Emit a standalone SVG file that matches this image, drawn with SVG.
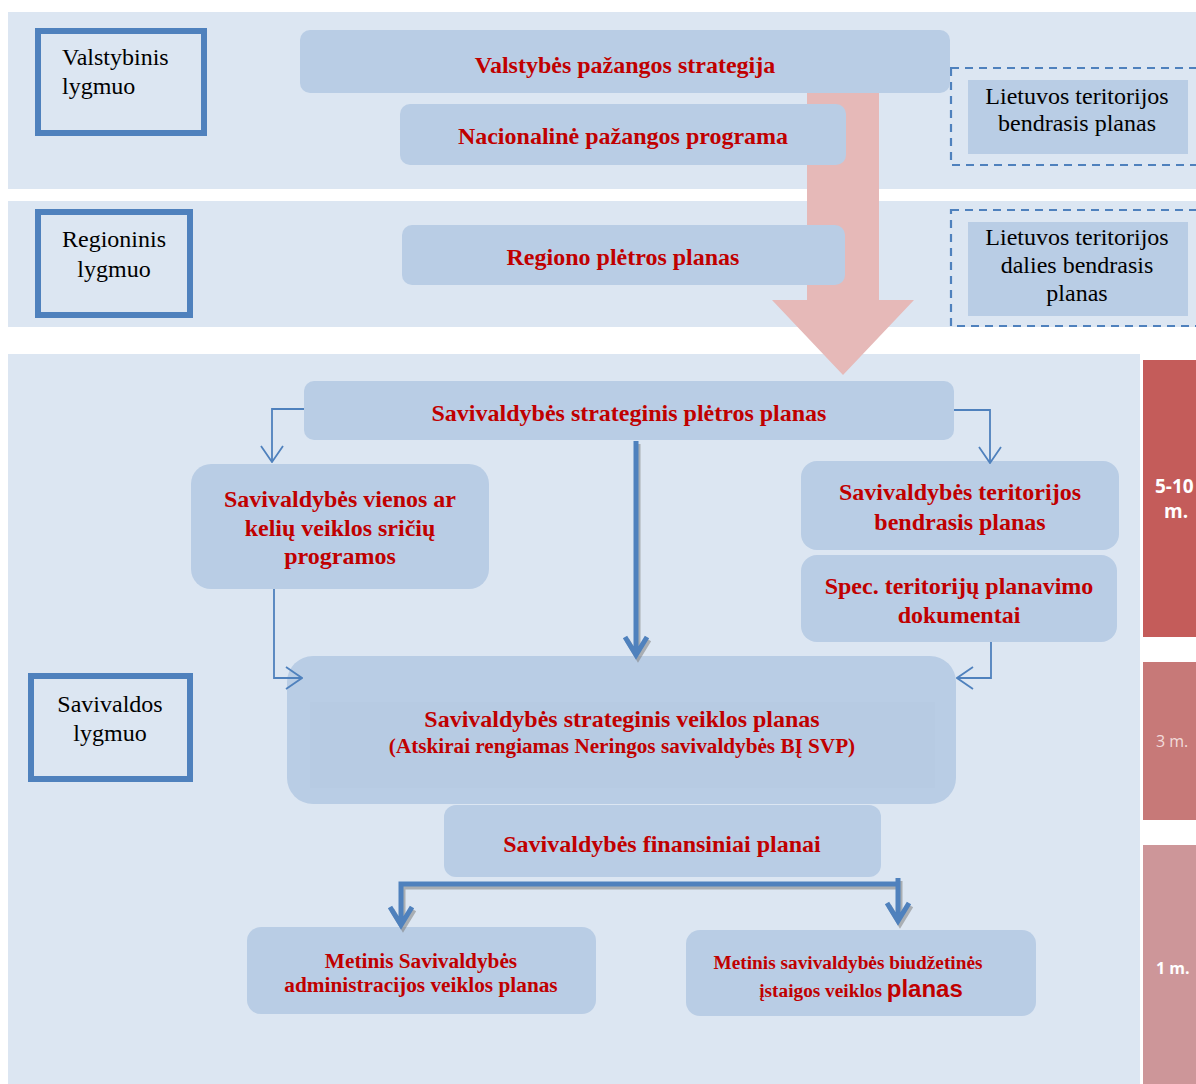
<svg xmlns="http://www.w3.org/2000/svg" width="1196" height="1084" viewBox="0 0 1196 1084">
<style>
.band{fill:#DCE6F2}
.node{fill:#B9CDE5}
.lvl{fill:#DCE6F2;stroke:#4F81BD;stroke-width:6}
.dash{fill:none;stroke:#4F81BD;stroke-width:2.2;stroke-dasharray:8 6}
.inner{fill:#B9CDE5}
.blk{font-family:"Liberation Serif",serif;font-size:24px;fill:#000}
.red{font-family:"Liberation Serif",serif;font-size:24px;font-weight:bold;fill:#C00000}
.thin{fill:none;stroke:#4F81BD;stroke-width:1.8}
.thick{fill:none;stroke:#4F81BD;stroke-width:5}
.shadow{fill:none;stroke:#7F7F7F;stroke-width:5;opacity:0.55}
.bar{font-family:"Open Sans",sans-serif;font-size:16px;fill:#fff}
.big{font-size:19px;font-weight:bold}
</style>
<defs>
<marker id="open" viewBox="0 0 18 24" refX="17" refY="12" markerWidth="18" markerHeight="24" markerUnits="userSpaceOnUse" orient="auto">
<path d="M1,1 L17,12 L1,23" fill="none" stroke="#4F81BD" stroke-width="1.8"/>
</marker>
</defs>
<rect width="1196" height="1084" fill="#fff"/>
<g id="bands">
<rect class="band" x="8" y="12" width="1188" height="177"/>
<rect class="band" x="8" y="201" width="1188" height="126"/>
<rect class="band" x="8" y="354" width="1132" height="730"/>
</g>
<g id="big-arrow">
<polygon points="807,93 879,93 879,300 914,300 843,375 772,300 807,300" fill="#E6B9B8"/>
</g>
<g id="periods">
<rect x="1143" y="360" width="60" height="277" fill="#C0504D" opacity="0.93"/>
<rect x="1143" y="662" width="60" height="158" fill="#C77978"/>
<rect x="1143" y="845" width="60" height="245" fill="#CD9699"/>
<text class="bar big" x="1155" y="493">5-10</text>
<text class="bar big" x="1164" y="518">m.</text>
<text class="bar" x="1156" y="747" style="fill:#F2DCDB">3 m.</text>
<text class="bar" x="1156" y="974" font-weight="bold">1 m.</text>
</g>
<g id="lvl-valstybinis">
<rect class="lvl" x="38" y="31" width="166" height="102"/>
<text class="blk" x="62" y="65">Valstybinis</text>
<text class="blk" x="62" y="94">lygmuo</text>
</g>
<g id="lvl-regioninis">
<rect class="lvl" x="38" y="212" width="152" height="103"/>
<text class="blk" x="114" y="247" text-anchor="middle">Regioninis</text>
<text class="blk" x="114" y="277" text-anchor="middle">lygmuo</text>
</g>
<g id="lvl-savivaldos">
<rect class="lvl" x="31" y="676" width="159" height="103"/>
<text class="blk" x="110" y="712" text-anchor="middle">Savivaldos</text>
<text class="blk" x="110" y="741" text-anchor="middle">lygmuo</text>
</g>
<g id="lt-bendrasis">
<rect class="dash" x="951" y="68" width="250" height="97"/>
<rect class="inner" x="968" y="80" width="220" height="74"/>
<text class="blk" x="1077" y="104" text-anchor="middle">Lietuvos teritorijos</text>
<text class="blk" x="1077" y="131" text-anchor="middle">bendrasis planas</text>
</g>
<g id="lt-dalies">
<rect class="dash" x="951" y="210" width="250" height="116"/>
<rect class="inner" x="968" y="222" width="220" height="94"/>
<text class="blk" x="1077" y="245" text-anchor="middle">Lietuvos teritorijos</text>
<text class="blk" x="1077" y="273" text-anchor="middle">dalies bendrasis</text>
<text class="blk" x="1077" y="301" text-anchor="middle">planas</text>
</g>
<g id="n-strategija">
<rect class="node" x="300" y="30" width="650" height="63" rx="10"/>
<text class="red" x="625" y="73" text-anchor="middle">Valstybės pažangos strategija</text>
</g>
<g id="n-programa">
<rect class="node" x="400" y="104" width="446" height="61" rx="10"/>
<text class="red" x="623" y="144" text-anchor="middle">Nacionalinė pažangos programa</text>
</g>
<g id="n-regiono">
<rect class="node" x="402" y="225" width="443" height="60" rx="10"/>
<text class="red" x="623" y="265" text-anchor="middle">Regiono plėtros planas</text>
</g>
<g id="n-spp">
<rect class="node" x="304" y="381" width="650" height="59" rx="10"/>
<text class="red" x="629" y="421" text-anchor="middle">Savivaldybės strateginis plėtros planas</text>
</g>
<g id="n-programos">
<rect class="node" x="191" y="464" width="298" height="125" rx="20"/>
<text class="red" x="340" y="507" text-anchor="middle">Savivaldybės vienos ar</text>
<text class="red" x="340" y="536" text-anchor="middle">kelių veiklos sričių</text>
<text class="red" x="340" y="564" text-anchor="middle">programos</text>
</g>
<g id="n-tbp">
<rect class="node" x="801" y="461" width="318" height="89" rx="16"/>
<text class="red" x="960" y="500" text-anchor="middle">Savivaldybės teritorijos</text>
<text class="red" x="960" y="530" text-anchor="middle">bendrasis planas</text>
</g>
<g id="n-spec">
<rect class="node" x="801" y="555" width="316" height="87" rx="16"/>
<text class="red" x="959" y="594" text-anchor="middle">Spec. teritorijų planavimo</text>
<text class="red" x="959" y="623" text-anchor="middle">dokumentai</text>
</g>
<g id="n-svp">
<rect class="node" x="287" y="656" width="669" height="148" rx="26"/>
<rect x="310" y="702" width="625" height="86" fill="#B7CBE3"/>
<text class="red" x="622" y="727" text-anchor="middle" style="font-size:24px">Savivaldybės strateginis veiklos planas</text>
<text class="red" x="622" y="753" text-anchor="middle" style="font-size:21.2px">(Atskirai rengiamas Neringos savivaldybės BĮ SVP)</text>
</g>
<g id="n-fin">
<rect class="node" x="444" y="805" width="437" height="72" rx="12"/>
<text class="red" x="662" y="852" text-anchor="middle">Savivaldybės finansiniai planai</text>
</g>
<g id="n-admin">
<rect class="node" x="247" y="927" width="349" height="87" rx="14"/>
<text class="red" x="421" y="968" text-anchor="middle" style="font-size:21.3px">Metinis Savivaldybės</text>
<text class="red" x="421" y="992" text-anchor="middle" style="font-size:21.3px">administracijos veiklos planas</text>
</g>
<g id="n-bi">
<rect class="node" x="686" y="930" width="350" height="86" rx="14"/>
<text class="red" x="848" y="969" text-anchor="middle" style="font-size:19.3px">Metinis savivaldybės biudžetinės</text>
<text class="red" x="861" y="997" text-anchor="middle" style="font-size:19.3px">įstaigos veiklos <tspan style="font-size:24px;font-family:'Liberation Sans',sans-serif">planas</tspan></text>
</g>
<g id="connectors">
<path class="thin" d="M304,409 H272 V462" marker-end="url(#open)"/>
<path class="thin" d="M954,410 H990 V463" marker-end="url(#open)"/>
<path class="thin" d="M274,589 V678 H302" marker-end="url(#open)"/>
<path class="thin" d="M991,642 V678 H957" marker-end="url(#open)"/>
<path class="shadow" d="M638,444 V654 M627,640 L638,658 L649,640"/>
<path class="thick" d="M636,441 V652 M625,637 L636,655 L647,637"/>
<path class="shadow" d="M403,923 V887 H900 M900,881 V919 M392,910 L403,928 L414,910 M889,906 L900,924 L911,906"/>
<path class="thick" d="M401,921 V884 H898 M898,878 V917 M390,907 L401,925 L412,907 M887,903 L898,921 L909,903"/>
</g>
</svg>
